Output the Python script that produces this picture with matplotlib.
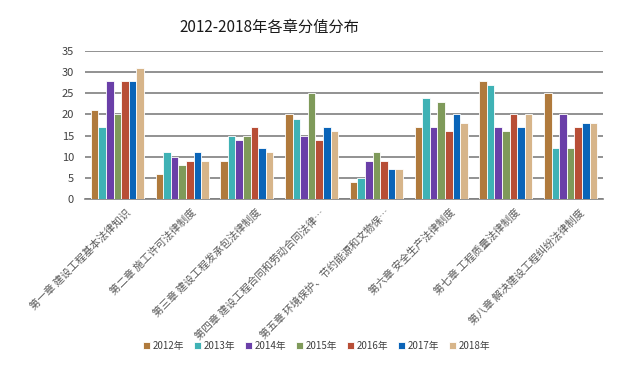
import numpy as np
import matplotlib
matplotlib.use("Agg")
import matplotlib.pyplot as plt
import matplotlib.transforms as mtransforms

plt.rcParams['font.family'] = ['Noto Sans CJK SC', 'DejaVu Sans']

# --- 数据 ---
chapters = [
    "第一章 建设工程基本法律知识",
    "第二章 施工许可法律制度",
    "第三章 建设工程发承包法律制度",
    "第四章 建设工程合同和劳动合同法律…",
    "第五章 环境保护、节约能源和文物保…",
    "第六章 安全生产法律制度",
    "第七章 工程质量法律制度",
    "第八章 解决建设工程纠纷法律制度",
]
years = ["2012年", "2013年", "2014年", "2015年", "2016年", "2017年", "2018年"]

y2012 = [21, 6, 9, 20, 4, 17, 28, 25]
y2013 = [17, 11, 15, 19, 5, 24, 27, 12]
y2014 = [28, 10, 14, 15, 9, 17, 17, 20]
y2015 = [20, 8, 15, 25, 11, 23, 16, 12]
y2016 = [28, 9, 17, 14, 9, 16, 20, 17]
y2017 = [28, 11, 12, 17, 7, 20, 17, 18]
y2018 = [31, 9, 11, 16, 7, 18, 20, 18]
series = [y2012, y2013, y2014, y2015, y2016, y2017, y2018]

colors = ["#B07A3C", "#3FB2B5", "#6A3FA8", "#7F9A5A", "#B84E36", "#0A64B8", "#D7B58A"]

fig = plt.figure(figsize=(6.32, 3.71), dpi=100)
ax = fig.add_axes([85 / 632, 1 - 199 / 371, 518 / 632, 148 / 371])

x = np.arange(len(chapters))
n = len(series)
width = 0.82 / n
for i, vals in enumerate(series):
    ax.bar(x + (i - (n - 1) / 2) * width, vals, width, color=colors[i],
           edgecolor="white", linewidth=0.6, label=years[i], zorder=3)

ax.set_ylim(0, 35)
ax.set_yticks(range(0, 36, 5))
ax.set_xlim(-0.5, len(chapters) - 0.5)
ax.grid(axis="y", color="#7f7f7f", linewidth=1.2, zorder=0)
for s in ["top", "right", "left"]:
    ax.spines[s].set_visible(False)
ax.spines["bottom"].set_color("#7f7f7f")
ax.spines["bottom"].set_linewidth(1.2)
ax.tick_params(axis="y", length=0, labelsize=8, colors="#404040", pad=8)
ax.tick_params(axis="x", length=0, pad=0)
ax.set_xticks(x)
ax.set_xticklabels(chapters, rotation=45, ha="right", rotation_mode="anchor",
                   fontsize=7.5, color="#595959")

# 标签往右下挪一点，和原图对齐
offset = mtransforms.ScaledTranslation(6 / 72, -6 / 72, fig.dpi_scale_trans)
for lab in ax.get_xticklabels():
    lab.set_transform(lab.get_transform() + offset)

fig.text(269 / 632, 1 - 27 / 371, "2012-2018年各章分值分布", ha="center", va="center",
         fontsize=11, color="#1a1a1a")

fig.legend(loc="center", bbox_to_anchor=(317 / 632, 1 - 346 / 371), ncol=7,
           frameon=False, fontsize=7, handlelength=0.7, handleheight=0.7,
           columnspacing=1.0, handletextpad=0.3, labelcolor="#404040")

fig.savefig("out.png", dpi=100)
